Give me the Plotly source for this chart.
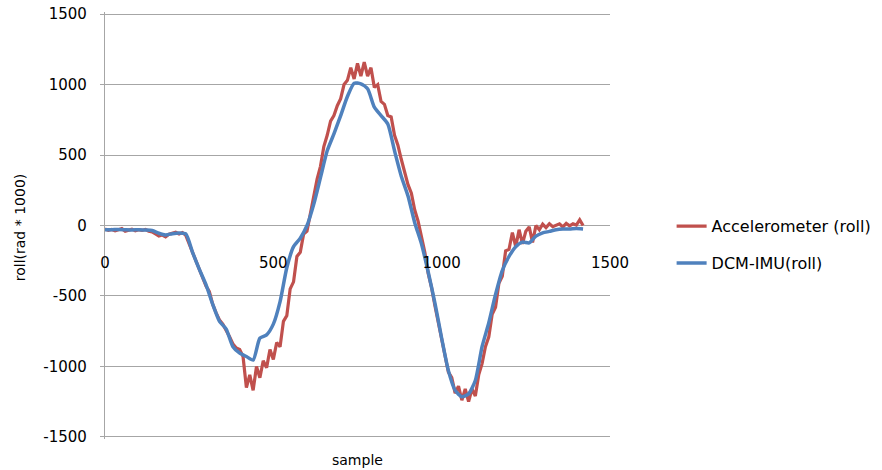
import plotly.graph_objects as go

# ---- data ----
acc_samples = list(range(0, 1430, 10))
acc_roll = [
    -25, -35, -28, -38, -30, -22, -40, -32, -26, -38,
    -30, -35, -28, -40, -45, -60, -75, -68, -80, -62,
    -55, -48, -60, -50, -70, -130, -200, -250, -320, -370,
    -430, -470, -560, -620, -670, -700, -740, -790, -840, -870,
    -880, -930, -1150, -1060, -1170, -1000, -1080, -960, -1010, -880,
    -950, -830, -860, -680, -640, -450, -400, -220, -190, -60,
    -40, 80, 200, 330, 420, 560, 640, 740, 780, 850,
    900, 1000, 1030, 1120, 1040, 1150, 1060, 1160, 1060, 1120,
    980, 1000, 880, 860, 780, 770, 640, 570, 470, 380,
    290, 230, 110, 30, -90, -190, -340, -440, -570, -690,
    -810, -910, -1040, -1080, -1190, -1140, -1240, -1160, -1250, -1160,
    -1210, -1060, -980, -860, -790, -630, -580, -410, -360, -180,
    -170, -50, -150, -30, -130, -40, -10, -120, 0, -30,
    10, -15, 12, -8, 5, 12, -10, 15, -2, 12,
    3, 40, 0,
]

dcm_samples = list(range(0, 1440, 20))
dcm_roll = [
    -30, -30, -28, -30, -32, -30, -32, -35, -55, -67,
    -58, -53, -60, -190, -310, -420, -560, -680, -735, -860,
    -905, -930, -955, -800, -776, -700, -540, -300, -150, -90,
    0, 150, 340, 530, 650, 780, 915, 1010, 1005, 970,
    840, 780, 720, 530, 350, 210, 20, -130, -330, -550,
    -800, -1030, -1170, -1215, -1195, -1100, -860, -690, -490, -320,
    -220, -150, -118, -124, -75, -52, -42, -30, -25, -25,
    -22, -25,
]

x_ticks = [0, 500, 1000, 1500]
y_ticks = [-1500, -1000, -500, 0, 500, 1000, 1500]

RED = "#C0504D"
BLUE = "#4F81BD"
GRID = "#A6A6A6"
FONT = "DejaVu Sans"

fig = go.Figure()
fig.add_trace(go.Scatter(
    x=acc_samples, y=acc_roll, mode="lines", name="Accelerometer (roll)",
    line=dict(color=RED, width=3.2), legendgroup="a",
))
fig.add_trace(go.Scatter(
    x=dcm_samples, y=dcm_roll, mode="lines", name="DCM-IMU(roll)",
    line=dict(color=BLUE, width=3.5, shape="spline", smoothing=0.6), legendgroup="b",
))

fig.update_layout(
    width=882, height=470,
    margin=dict(l=105, r=272, t=12, b=31, autoexpand=False),
    plot_bgcolor="white", paper_bgcolor="white",
    font=dict(family=FONT, size=15, color="#000000"),
    showlegend=True,
    legend=dict(
        x=1.122, xanchor="left", y=0.538, yanchor="top",
        font=dict(family=FONT, size=16, color="#000000"),
        tracegroupgap=13, traceorder="grouped",
        bgcolor="rgba(0,0,0,0)",
    ),
    xaxis=dict(
        range=[0, 1500], tickvals=x_ticks, ticktext=[str(v) for v in x_ticks],
        showgrid=False, zeroline=False, showline=False, ticks="",
        anchor="free", position=0.5, ticklabelstandoff=26, automargin=False,
        ticklabeloverflow="allow",
        tickfont=dict(family=FONT, size=15, color="#000000"),
    ),
    yaxis=dict(
        range=[-1515, 1515], tickvals=y_ticks, ticktext=[str(v) for v in y_ticks],
        showgrid=True, gridcolor=GRID, gridwidth=1.3,
        zeroline=True, zerolinecolor=GRID, zerolinewidth=1.3,
        showline=True, linecolor=GRID, linewidth=1.3,
        ticks="outside", tickcolor=GRID, ticklen=4, ticklabelstandoff=10,
        automargin=False, ticklabeloverflow="allow",
        tickfont=dict(family=FONT, size=15, color="#000000"),
    ),
    annotations=[
        dict(text="sample", xref="paper", yref="paper", x=0.5, y=-0.05,
             xanchor="center", yanchor="middle", showarrow=False,
             font=dict(family=FONT, size=14, color="#000000")),
        dict(text="roll(rad * 1000)", xref="paper", yref="paper", x=-0.168, y=0.494,
             xanchor="center", yanchor="middle", textangle=-90, showarrow=False,
             font=dict(family=FONT, size=14, color="#000000")),
    ],
)

fig.write_html(
    "out.html",
    config={"displayModeBar": False},
    post_script="document.body.style.margin='0px';",
)
